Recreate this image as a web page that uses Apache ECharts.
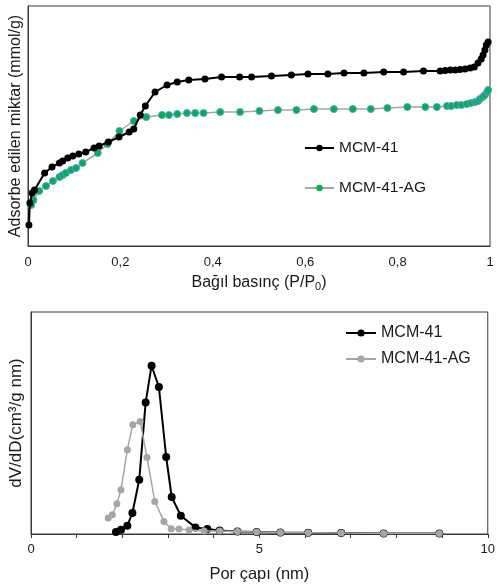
<!DOCTYPE html>
<html>
<head>
<meta charset="utf-8">
<script src="https://cdn.jsdelivr.net/npm/echarts@6/dist/echarts.min.js"></script>
<style>
html,body{margin:0;padding:0;background:#fff;}
#c{width:498px;height:584px;}
</style>
</head>
<body>
<div id="c"></div>
<script>
// ---- Top chart: isotherms (relative pressure vs adsorbed amount, arbitrary units) ----
var isoX_MCM = [0.002,0.004,0.009,0.014,0.036,0.052,0.068,0.075,0.086,0.097,0.110,0.125,0.143,0.154,0.174,0.197,0.219,0.229,0.243,0.254,0.275,0.301,0.323,0.348,0.383,0.419,0.458,0.484,0.527,0.570,0.606,0.649,0.684,0.727,0.770,0.813,0.856,0.892,0.903,0.914,0.925,0.935,0.946,0.957,0.966,0.974,0.981,0.985,0.989,0.992,0.996];
var isoY_MCM = [21,43,53,56,73,79,83,85,88,90,92,94,98,100,104,109,114,117,131,140,154,161,164,166,167,169,169,169,170,171,172,172,173,173,174,174,175,175,175.5,176,176,176.5,177,178,179,183,187,191,196,201,204];
var isoX_AG = [0.007,0.012,0.024,0.039,0.054,0.068,0.075,0.082,0.093,0.104,0.118,0.151,0.172,0.198,0.229,0.256,0.290,0.305,0.323,0.344,0.362,0.380,0.416,0.459,0.501,0.541,0.581,0.619,0.662,0.703,0.742,0.778,0.821,0.860,0.885,0.907,0.916,0.928,0.938,0.950,0.959,0.968,0.974,0.978,0.984,0.989,0.994,0.996];
var isoY_AG = [41,46,55,60,65,69,71,73,76,78,83,93,102,115,125,129,131,131,132,133,133,133,134,134,135,136,136,137,137,137,137,138,139,139,139,140,140,141,141,142,143,144,145,147,149,151,154,156];

// ---- Bottom chart: pore size distribution ----
var psdX_MCM = [1.86,1.97,2.11,2.22,2.37,2.51,2.64,2.80,2.96,3.08,3.28,3.60,3.86,4.13,4.52,4.94,5.46,6.07,6.79,7.72,8.94];
var psdY_MCM = [2.0,4.3,8.3,21,54.3,131.6,168.3,147,77,37,18.3,6.6,5,3.6,2.6,2.0,1.6,1.3,1.0,0.6,0.6];
var psdX_AG = [1.69,1.78,1.88,1.97,2.11,2.23,2.39,2.54,2.71,2.91,3.07,3.24,3.46,3.79,4.13,4.52,4.94,5.46,6.07,6.79,7.72,8.94];
var psdY_AG = [16,19.3,30.3,44.3,84.3,109.3,112.6,76.6,32.6,12.6,5.3,5,4,3,3,2.6,2.0,1.6,1.3,1.0,0.6,0.6];

var topXTicks = [0,0.2,0.4,0.6,0.8,1];
var seriesNames = ['MCM-41','MCM-41-AG'];

function zip(a,b){return a.map(function(v,i){return [v,b[i]];});}

var FONT = 'Liberation Sans, Arial, sans-serif';
var TXT = '#1a1a1a';
var BORDER = '#3a3a3a';

var chart = echarts.init(document.getElementById('c'), null, {renderer:'canvas'});
chart.setOption({
  animation:false,
  textStyle:{fontFamily:FONT,color:TXT},
  grid:[
    {left:25, top:6, width:465, height:240, show:true, borderColor:BORDER, borderWidth:1},
    {left:22, top:312, width:471, height:222, show:true, borderColor:BORDER, borderWidth:1}
  ],
  legend:[
    {orient:'vertical', left:304, top:140, padding:0, itemWidth:29, itemHeight:8, itemGap:24, itemStyle:{borderWidth:0},
     textStyle:{fontSize:15.5,color:TXT,fontFamily:FONT},
     data:[seriesNames[0], seriesNames[1]]},
    {orient:'vertical', left:345, top:325, padding:0, itemWidth:30, itemHeight:9, itemGap:10,
     textStyle:{fontSize:16,color:TXT,fontFamily:FONT},
     formatter:function(n){return n.trim();},
     data:[seriesNames[0]+' ', seriesNames[1]+' ']}
  ],
  xAxis:[
    {gridIndex:0, type:'value', min:topXTicks[0], max:topXTicks[topXTicks.length-1], interval:0.2,
     axisLine:{lineStyle:{color:BORDER}}, axisTick:{show:false}, splitLine:{show:false},
     axisLabel:{fontSize:13,color:TXT,margin:10,fontFamily:FONT,
       formatter:function(v){return String(+v.toFixed(1)).replace('.',',');}},
     name:'Bağıl basınç (P/P{sub|0})', nameLocation:'middle', nameGap:28,
     nameTextStyle:{fontSize:16,color:TXT,fontFamily:FONT,
       rich:{sub:{fontSize:11,color:TXT,fontFamily:FONT,padding:[7,0,0,0]}}}},
    {gridIndex:1, type:'value', min:0, max:10, interval:5,
     axisLine:{lineStyle:{color:BORDER}},
     axisTick:{show:true,length:4,lineStyle:{color:BORDER}},
     minorTick:{show:true,splitNumber:5,length:4,lineStyle:{color:BORDER}},
     splitLine:{show:false},
     axisLabel:{fontSize:13,color:TXT,margin:9,fontFamily:FONT},
     name:'Por çapı (nm)', nameLocation:'middle', nameGap:32,
     nameTextStyle:{fontSize:16.5,color:TXT,fontFamily:FONT}}
  ],
  yAxis:[
    {gridIndex:0, type:'value', min:0, max:240,
     axisLine:{show:true,lineStyle:{color:BORDER}}, axisTick:{show:false}, axisLabel:{show:false}, splitLine:{show:false},
     name:'Adsorbe edilen miktar (mmol/g)', nameLocation:'middle', nameGap:4,
     nameTextStyle:{fontSize:16,color:TXT,fontFamily:FONT}},
    {gridIndex:1, type:'value', min:0, max:222,
     axisLine:{show:true,lineStyle:{color:BORDER}}, axisTick:{show:false}, axisLabel:{show:false}, splitLine:{show:false},
     name:'dV/dD(cm³/g nm)', nameLocation:'middle', nameGap:6,
     nameTextStyle:{fontSize:17,color:TXT,fontFamily:FONT}}
  ],
  series:[
    {name:seriesNames[1], type:'line', xAxisIndex:0, yAxisIndex:0, data:zip(isoX_AG,isoY_AG),
     symbol:'circle', symbolSize:7, lineStyle:{color:'#a6a6a6',width:1.5},
     itemStyle:{color:'#00b050',borderColor:'#5b9bd5',borderWidth:1}, z:2},
    {name:seriesNames[0], type:'line', xAxisIndex:0, yAxisIndex:0, data:zip(isoX_MCM,isoY_MCM),
     symbol:'circle', symbolSize:7, lineStyle:{color:'#000',width:2},
     itemStyle:{color:'#000'}, z:3},
    {name:seriesNames[0]+' ', type:'line', xAxisIndex:1, yAxisIndex:1, data:zip(psdX_MCM,psdY_MCM),
     symbol:'circle', symbolSize:8, lineStyle:{color:'#000',width:2},
     itemStyle:{color:'#000'}, z:2},
    {name:seriesNames[1]+' ', type:'line', xAxisIndex:1, yAxisIndex:1, data:zip(psdX_AG,psdY_AG),
     symbol:'circle', symbolSize:7, lineStyle:{color:'#a6a6a6',width:1.5},
     itemStyle:{color:'#a6a6a6'}, z:3}
  ]
});
</script>
</body>
</html>
